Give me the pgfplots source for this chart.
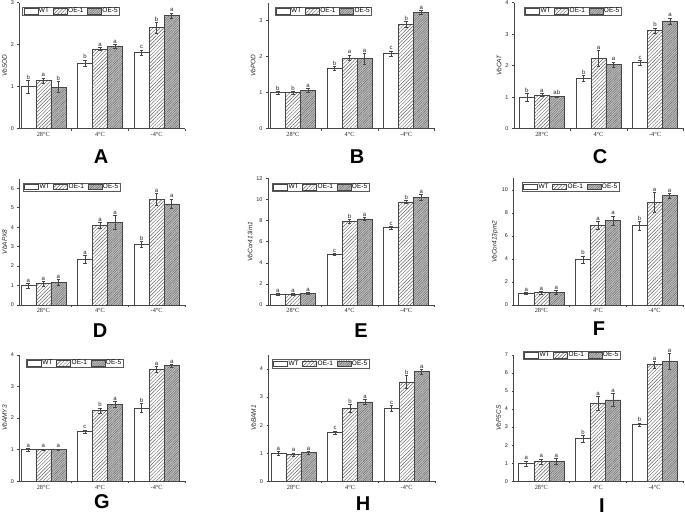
\documentclass[border=0pt]{standalone}
\usepackage{fontspec}
\setmainfont{Liberation Sans}
\newfontfamily\seriff{Liberation Serif}
\usepackage{pgfplots}
\usepackage{pgfplotstable}
\pgfplotsset{compat=1.18}
\usetikzlibrary{patterns.meta}

\pgfplotstableread{
g wt wte wtl oa oae oal ob obe obl
0 1.00 0.15 b 1.15 0.06 a 0.99 0.13 b
1 1.56 0.08 b 1.90 0.04 a 1.96 0.05 a
2 1.81 0.07 c 2.41 0.13 b 2.70 0.06 a
}\tA
\pgfplotstableread{
g wt wte wtl oa oae oal ob obe obl
0 1.00 0.04 b 1.00 0.04 b 1.07 0.05 a
1 1.68 0.06 b 1.97 0.08 a 1.95 0.15 a
2 2.09 0.07 c 2.91 0.08 b 3.24 0.05 a
}\tB
\pgfplotstableread{
g wt wte wtl oa oae oal ob obe obl
0 1.00 0.12 b 1.07 0.05 a 1.02 0.02 ab
1 1.60 0.10 b 2.23 0.25 a 2.04 0.08 a
2 2.10 0.08 c 3.11 0.09 b 3.42 0.10 a
}\tC
\pgfplotstableread{
g wt wte wtl oa oae oal ob obe obl
0 1.00 0.12 a 1.11 0.12 a 1.17 0.15 a
1 2.35 0.20 a 4.08 0.15 a 4.25 0.35 a
2 3.14 0.15 b 5.44 0.30 a 5.20 0.25 a
}\tD
\pgfplotstableread{
g wt wte wtl oa oae oal ob obe obl
0 1.01 0.08 a 1.00 0.10 a 1.10 0.12 a
1 4.80 0.12 c 7.96 0.20 b 8.18 0.12 a
2 7.33 0.15 c 9.79 0.15 b 10.23 0.30 a
}\tE
\pgfplotstableread{
g wt wte wtl oa oae oal ob obe obl
0 1.01 0.10 a 1.10 0.12 a 1.10 0.15 a
1 3.97 0.30 b 6.93 0.35 a 7.36 0.40 a
2 6.90 0.40 b 8.93 0.85 a 9.50 0.20 a
}\tF
\pgfplotstableread{
g wt wte wtl oa oae oal ob obe obl
0 1.00 0.05 a 1.01 0.02 a 1.01 0.02 a
1 1.58 0.05 c 2.24 0.08 b 2.43 0.10 a
2 2.32 0.15 b 3.54 0.10 a 3.66 0.04 a
}\tG
\pgfplotstableread{
g wt wte wtl oa oae oal ob obe obl
0 1.00 0.07 a 0.96 0.05 a 1.02 0.04 a
1 1.74 0.06 c 2.60 0.13 b 2.83 0.09 a
2 2.60 0.10 c 3.54 0.22 b 3.90 0.08 a
}\tH
\pgfplotstableread{
g wt wte wtl oa oae oal ob obe obl
0 0.99 0.15 a 1.09 0.15 a 1.10 0.17 a
1 2.36 0.18 b 4.31 0.40 a 4.51 0.35 a
2 3.13 0.10 b 6.45 0.20 a 6.63 0.45 a
}\tI

\definecolor{axc}{RGB}{70,70,70}
\pgfplotsset{
  wtsty/.style={draw=axc, line width=0.5pt, fill=white},
  o1sty/.style={draw=axc, line width=0.5pt, fill=white,
    postaction={pattern={Lines[angle=45,distance=2.5pt,line width=0.45pt]}, pattern color=gray!75!black}},
  o5sty/.style={draw=axc, line width=0.5pt, fill=gray!50,
    postaction={pattern={Lines[angle=45,distance=1.7pt,line width=0.4pt]}, pattern color=gray!80!black}},
  lab/.style={draw=none, mark=none, forget plot, nodes near coords, point meta=explicit symbolic,
    every node near coord/.append style={font=\fontsize{6}{6}\selectfont, anchor=south, inner sep=0.7pt, text=black!85}},
  panel/.style={scale only axis, anchor=south west, ymin=0, clip=false,
    axis x line*=bottom, axis y line*=left,
    axis line style={-, draw=axc, line width=0.6pt},
    tick align=outside, major tick length=2pt, minor tick length=2pt,
    tick style={axc, line width=0.5pt},
    xtick={0.5,1.5,2.5}, xticklabels={,,},
    extra x ticks={0,1,2}, extra x tick labels={28°C,4°C,-4°C},
    extra x tick style={major tick length=0pt},
    xticklabel style={font=\seriff\fontsize{6.3}{7}\selectfont, text=black!85},
    yticklabel style={font=\fontsize{5.5}{6}\selectfont, text=black!85},
    /pgf/number format/assume math mode=true,
    ylabel style={font=\fontsize{6.5}{7}\selectfont\itshape, text=black!85},
    ylabel shift=-3pt,
    legend columns=3,
    legend entries={WT,OE-1,OE-5},
    legend image code/.code={\draw[##1] (0pt,-2.7pt) rectangle (14pt,2.7pt);},
    legend style={at={(0,1)}, anchor=north west, draw=gray!70!black, line width=0.4pt,
      font=\fontsize{6.5}{7}\selectfont, inner xsep=1pt, inner ysep=0.4pt,
      nodes={inner sep=0.8pt},
      /tikz/every even column/.append style={column sep=3pt}},
    error bars/error bar style={line width=0.4pt, draw=axc},
    error bars/error mark options={line width=0.4pt, mark size=1.8pt, draw=axc, rotate=90},
  },
  col1/.style={xmin=-0.42, xmax=2.5, width=165.5pt},
  col2/.style={xmin=-0.44, xmax=2.5, width=166.5pt},
  col3/.style={xmin=-0.49, xmax=2.51, width=170pt},
}

\newcommand\bars[1]{%
  \addplot[ybar, bar shift=0pt, bar width=0.265, wtsty, error bars/.cd, y dir=both, y explicit]
    table[x expr=\coordindex-0.265, y=wt, y error=wte]{#1};
  \addplot[ybar, bar shift=0pt, bar width=0.265, o1sty, error bars/.cd, y dir=both, y explicit]
    table[x expr=\coordindex, y=oa, y error=oae]{#1};
  \addplot[ybar, bar shift=0pt, bar width=0.265, o5sty, error bars/.cd, y dir=both, y explicit]
    table[x expr=\coordindex+0.265, y=ob, y error=obe]{#1};
  \addplot[lab] table[x expr=\coordindex-0.265, y expr=\thisrow{wt}+\thisrow{wte}, meta=wtl]{#1};
  \addplot[lab] table[x expr=\coordindex, y expr=\thisrow{oa}+\thisrow{oae}, meta=oal]{#1};
  \addplot[lab] table[x expr=\coordindex+0.265, y expr=\thisrow{ob}+\thisrow{obe}, meta=obl]{#1};
}

\begin{document}
\begin{tikzpicture}
\useasboundingbox (0,0) rectangle (685pt,517pt);
% row 1
\begin{axis}[panel, col1, at={(19.5pt,388.3pt)}, height=126pt, ymax=3, ytick distance=1,
  ylabel={VbSOD}, legend style={xshift=3pt, yshift=-4pt}]
\bars{\tA}
\end{axis}
\begin{axis}[panel, col2, at={(268pt,388.3pt)}, height=126pt, ymax=3.5, ytick distance=1,
  ylabel={VbPOD}, legend style={xshift=6.7pt, yshift=-4pt}]
\bars{\tB}
\end{axis}
\begin{axis}[panel, col3, at={(514pt,388.3pt)}, height=126pt, ymax=4, ytick distance=1,
  ylabel={VbCAT}, legend style={xshift=10pt, yshift=-4pt}]
\bars{\tC}
\end{axis}
% row 2
\begin{axis}[panel, col1, at={(19.5pt,212pt)}, height=126.5pt, ymax=6.5, ytick distance=1,
  ylabel={VbAPX8}, legend style={xshift=3.5pt, yshift=-4pt}]
\bars{\tD}
\end{axis}
\begin{axis}[panel, col2, at={(268pt,212pt)}, height=126.5pt, ymax=12, ytick distance=2,
  ylabel={VbCor413im1}, legend style={xshift=4pt, yshift=-4.5pt}]
\bars{\tE}
\end{axis}
\begin{axis}[panel, col3, at={(513.5pt,212pt)}, height=126.5pt, ymax=11, ytick distance=2,
  ylabel={VbCor413pm2}, legend style={xshift=8.5pt, yshift=-4pt}]
\bars{\tF}
\end{axis}
% row 3
\begin{axis}[panel, col1, at={(19.5pt,35.7pt)}, height=126.5pt, ymax=4, ytick distance=1,
  ylabel={VbAMY3}, legend style={xshift=6.5pt, yshift=-4pt}]
\bars{\tG}
\end{axis}
\begin{axis}[panel, col2, at={(268.5pt,35.7pt)}, height=126.5pt, ymax=4.5, ytick distance=1,
  ylabel={VbBAM1}, legend style={xshift=3.5pt, yshift=-4.3pt}]
\bars{\tH}
\end{axis}
\begin{axis}[panel, col3, at={(513.5pt,35.7pt)}, height=126.5pt, ymax=7, ytick distance=1,
  ylabel={VbP5CS}, legend style={xshift=9.5pt, yshift=4pt}]
\bars{\tI}
\end{axis}
% panel letters
\begin{scope}[every node/.style={font=\fontsize{20}{20}\selectfont\bfseries, inner sep=0pt}]
\node at (101pt,360pt) {A};
\node at (357pt,360pt) {B};
\node at (600pt,360pt) {C};
\node at (100pt,186pt) {D};
\node at (361pt,186pt) {E};
\node at (599pt,188pt) {F};
\node at (102pt,15pt) {G};
\node at (363pt,13pt) {H};
\node at (602pt,11.5pt) {I};
\end{scope}
\end{tikzpicture}
\end{document}
